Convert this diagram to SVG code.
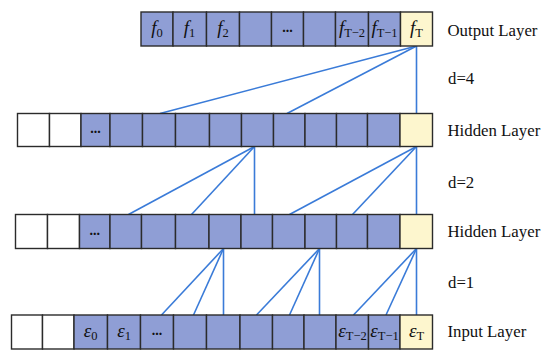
<svg xmlns="http://www.w3.org/2000/svg" width="550" height="357" viewBox="0 0 550 357">
<style>
.b{fill:#8f9ed5;stroke:#2b2b2b;stroke-width:1.4}
.w{fill:#ffffff;stroke:#2b2b2b;stroke-width:1.4}
.y{fill:#fdf6ce;stroke:#2b2b2b;stroke-width:1.4}
.lbl{font-family:"Liberation Serif","Times New Roman",serif;font-size:16.8px;fill:#111}
.sym{font-family:"Liberation Serif","Times New Roman",serif;font-size:19px;fill:#111;text-anchor:middle}
.sub{font-size:12.5px;font-style:normal}
.dots{font-family:"Liberation Serif",serif;font-size:14px;font-weight:bold;fill:#111;text-anchor:middle}
.c line{stroke:#3a7bd8;stroke-width:1.6}
</style>
<g id="connectors" class="c">
<line x1="416.5" y1="46" x2="160" y2="113.5"/>
<line x1="416.5" y1="46" x2="287" y2="113.5"/>
<line x1="416.5" y1="46" x2="416.5" y2="113.5"/>
<line x1="254.5" y1="146.5" x2="128.5" y2="214.5"/>
<line x1="254.5" y1="146.5" x2="191.5" y2="214.5"/>
<line x1="254.5" y1="146.5" x2="254.5" y2="214.5"/>
<line x1="416.5" y1="146.5" x2="289.5" y2="214.5"/>
<line x1="416.5" y1="146.5" x2="352.5" y2="214.5"/>
<line x1="416.5" y1="146.5" x2="416.5" y2="214.5"/>
<line x1="223.5" y1="248.5" x2="161.5" y2="315"/>
<line x1="223.5" y1="248.5" x2="193.5" y2="315"/>
<line x1="223.5" y1="248.5" x2="223.5" y2="315"/>
<line x1="319.5" y1="248.5" x2="256.5" y2="315"/>
<line x1="319.5" y1="248.5" x2="289.5" y2="315"/>
<line x1="319.5" y1="248.5" x2="319.5" y2="315"/>
<line x1="416.5" y1="248.5" x2="353.5" y2="315"/>
<line x1="416.5" y1="248.5" x2="386" y2="315"/>
<line x1="416.5" y1="248.5" x2="416.5" y2="315"/>
</g>
<!-- Output layer -->
<g id="out0"><rect class="b" x="141" y="12" width="32" height="34"/><text class="sym" x="157" y="34"><tspan font-style="italic">f</tspan><tspan class="sub" dy="2.5">0</tspan></text></g>
<g id="out1"><rect class="b" x="173" y="12" width="33.5" height="34"/><text class="sym" x="189.5" y="34"><tspan font-style="italic">f</tspan><tspan class="sub" dy="2.5">1</tspan></text></g>
<g id="out2"><rect class="b" x="206.5" y="12" width="33" height="34"/><text class="sym" x="223" y="34"><tspan font-style="italic">f</tspan><tspan class="sub" dy="2.5">2</tspan></text></g>
<g id="out3"><rect class="b" x="239.5" y="12" width="32" height="34"/></g>
<g id="out4"><rect class="b" x="271.5" y="12" width="32" height="34"/><text class="dots" x="287.5" y="31.5">...</text></g>
<g id="out5"><rect class="b" x="303.5" y="12" width="32" height="34"/></g>
<g id="out6"><rect class="b" x="335.5" y="12" width="33" height="34"/><text class="sym" x="352" y="34"><tspan font-style="italic">f</tspan><tspan class="sub" dy="2.5">T−2</tspan></text></g>
<g id="out7"><rect class="b" x="368.5" y="12" width="32" height="34"/><text class="sym" x="384.5" y="34"><tspan font-style="italic">f</tspan><tspan class="sub" dy="2.5">T−1</tspan></text></g>
<g id="out8"><rect class="y" x="400.5" y="12" width="32" height="34"/><text class="sym" x="416.5" y="34"><tspan font-style="italic">f</tspan><tspan class="sub" dy="2.5">T</tspan></text></g>
<!-- Hidden layer 1 -->
<g id="h1_0"><rect class="w" x="17.5" y="113.5" width="32" height="33"/></g>
<g id="h1_1"><rect class="w" x="49.5" y="113.5" width="31.5" height="33"/></g>
<g id="h1_2"><rect class="b" x="81" y="113.5" width="29" height="33"/><text class="dots" x="95.5" y="133">...</text></g>
<g id="h1_3"><rect class="b" x="110" y="113.5" width="32.5" height="33"/></g>
<g id="h1_4"><rect class="b" x="142.5" y="113.5" width="33" height="33"/></g>
<g id="h1_5"><rect class="b" x="175.5" y="113.5" width="34" height="33"/></g>
<g id="h1_6"><rect class="b" x="209.5" y="113.5" width="32" height="33"/></g>
<g id="h1_7"><rect class="b" x="241.5" y="113.5" width="32" height="33"/></g>
<g id="h1_8"><rect class="b" x="273.5" y="113.5" width="31.5" height="33"/></g>
<g id="h1_9"><rect class="b" x="305" y="113.5" width="31.5" height="33"/></g>
<g id="h1_10"><rect class="b" x="336.5" y="113.5" width="31" height="33"/></g>
<g id="h1_11"><rect class="b" x="367.5" y="113.5" width="32.5" height="33"/></g>
<g id="h1_12"><rect class="y" x="400" y="113.5" width="32.5" height="33"/></g>
<!-- Hidden layer 2 -->
<g id="h2_0"><rect class="w" x="15.5" y="214.5" width="32" height="34"/></g>
<g id="h2_1"><rect class="w" x="47.5" y="214.5" width="32" height="34"/></g>
<g id="h2_2"><rect class="b" x="79.5" y="214.5" width="30.5" height="34"/><text class="dots" x="94.75" y="235">...</text></g>
<g id="h2_3"><rect class="b" x="110" y="214.5" width="31.5" height="34"/></g>
<g id="h2_4"><rect class="b" x="141.5" y="214.5" width="34" height="34"/></g>
<g id="h2_5"><rect class="b" x="175.5" y="214.5" width="33.5" height="34"/></g>
<g id="h2_6"><rect class="b" x="209" y="214.5" width="32" height="34"/></g>
<g id="h2_7"><rect class="b" x="241" y="214.5" width="31.5" height="34"/></g>
<g id="h2_8"><rect class="b" x="272.5" y="214.5" width="32.5" height="34"/></g>
<g id="h2_9"><rect class="b" x="305" y="214.5" width="31.5" height="34"/></g>
<g id="h2_10"><rect class="b" x="336.5" y="214.5" width="31" height="34"/></g>
<g id="h2_11"><rect class="b" x="367.5" y="214.5" width="32.5" height="34"/></g>
<g id="h2_12"><rect class="y" x="400" y="214.5" width="32.5" height="34"/></g>
<!-- Input layer -->
<g id="in0"><rect class="w" x="11.5" y="315" width="31" height="34"/></g>
<g id="in1"><rect class="w" x="42.5" y="315" width="31.5" height="34"/></g>
<g id="in2"><rect class="b" x="74" y="315" width="33.5" height="34"/><text class="sym" x="90.5" y="337"><tspan font-style="italic">ε</tspan><tspan class="sub" dy="2.5">0</tspan></text></g>
<g id="in3"><rect class="b" x="107.5" y="315" width="33" height="34"/><text class="sym" x="124" y="337"><tspan font-style="italic">ε</tspan><tspan class="sub" dy="2.5">1</tspan></text></g>
<g id="in4"><rect class="b" x="140.5" y="315" width="33" height="34"/><text class="dots" x="157" y="335">...</text></g>
<g id="in5"><rect class="b" x="173.5" y="315" width="33" height="34"/></g>
<g id="in6"><rect class="b" x="206.5" y="315" width="33.5" height="34"/></g>
<g id="in7"><rect class="b" x="240" y="315" width="32.5" height="34"/></g>
<g id="in8"><rect class="b" x="272.5" y="315" width="31.5" height="34"/></g>
<g id="in9"><rect class="b" x="304" y="315" width="32" height="34"/></g>
<g id="in10"><rect class="b" x="336" y="315" width="32.5" height="34"/><text class="sym" x="352.5" y="337"><tspan font-style="italic">ε</tspan><tspan class="sub" dy="2.5">T−2</tspan></text></g>
<g id="in11"><rect class="b" x="368.5" y="315" width="31.5" height="34"/><text class="sym" x="384.5" y="337"><tspan font-style="italic">ε</tspan><tspan class="sub" dy="2.5">T−1</tspan></text></g>
<g id="in12"><rect class="y" x="400" y="315" width="32.5" height="34"/><text class="sym" x="416.5" y="337"><tspan font-style="italic">ε</tspan><tspan class="sub" dy="2.5">T</tspan></text></g>
<!-- Labels -->
<g id="labels">
<text class="lbl" x="447.5" y="36">Output Layer</text>
<text class="lbl" x="448" y="84">d=4</text>
<text class="lbl" x="447.5" y="136">Hidden Layer</text>
<text class="lbl" x="448" y="187.5">d=2</text>
<text class="lbl" x="447.5" y="237">Hidden Layer</text>
<text class="lbl" x="448" y="287.5">d=1</text>
<text class="lbl" x="447.5" y="337">Input Layer</text>
</g>
</svg>
